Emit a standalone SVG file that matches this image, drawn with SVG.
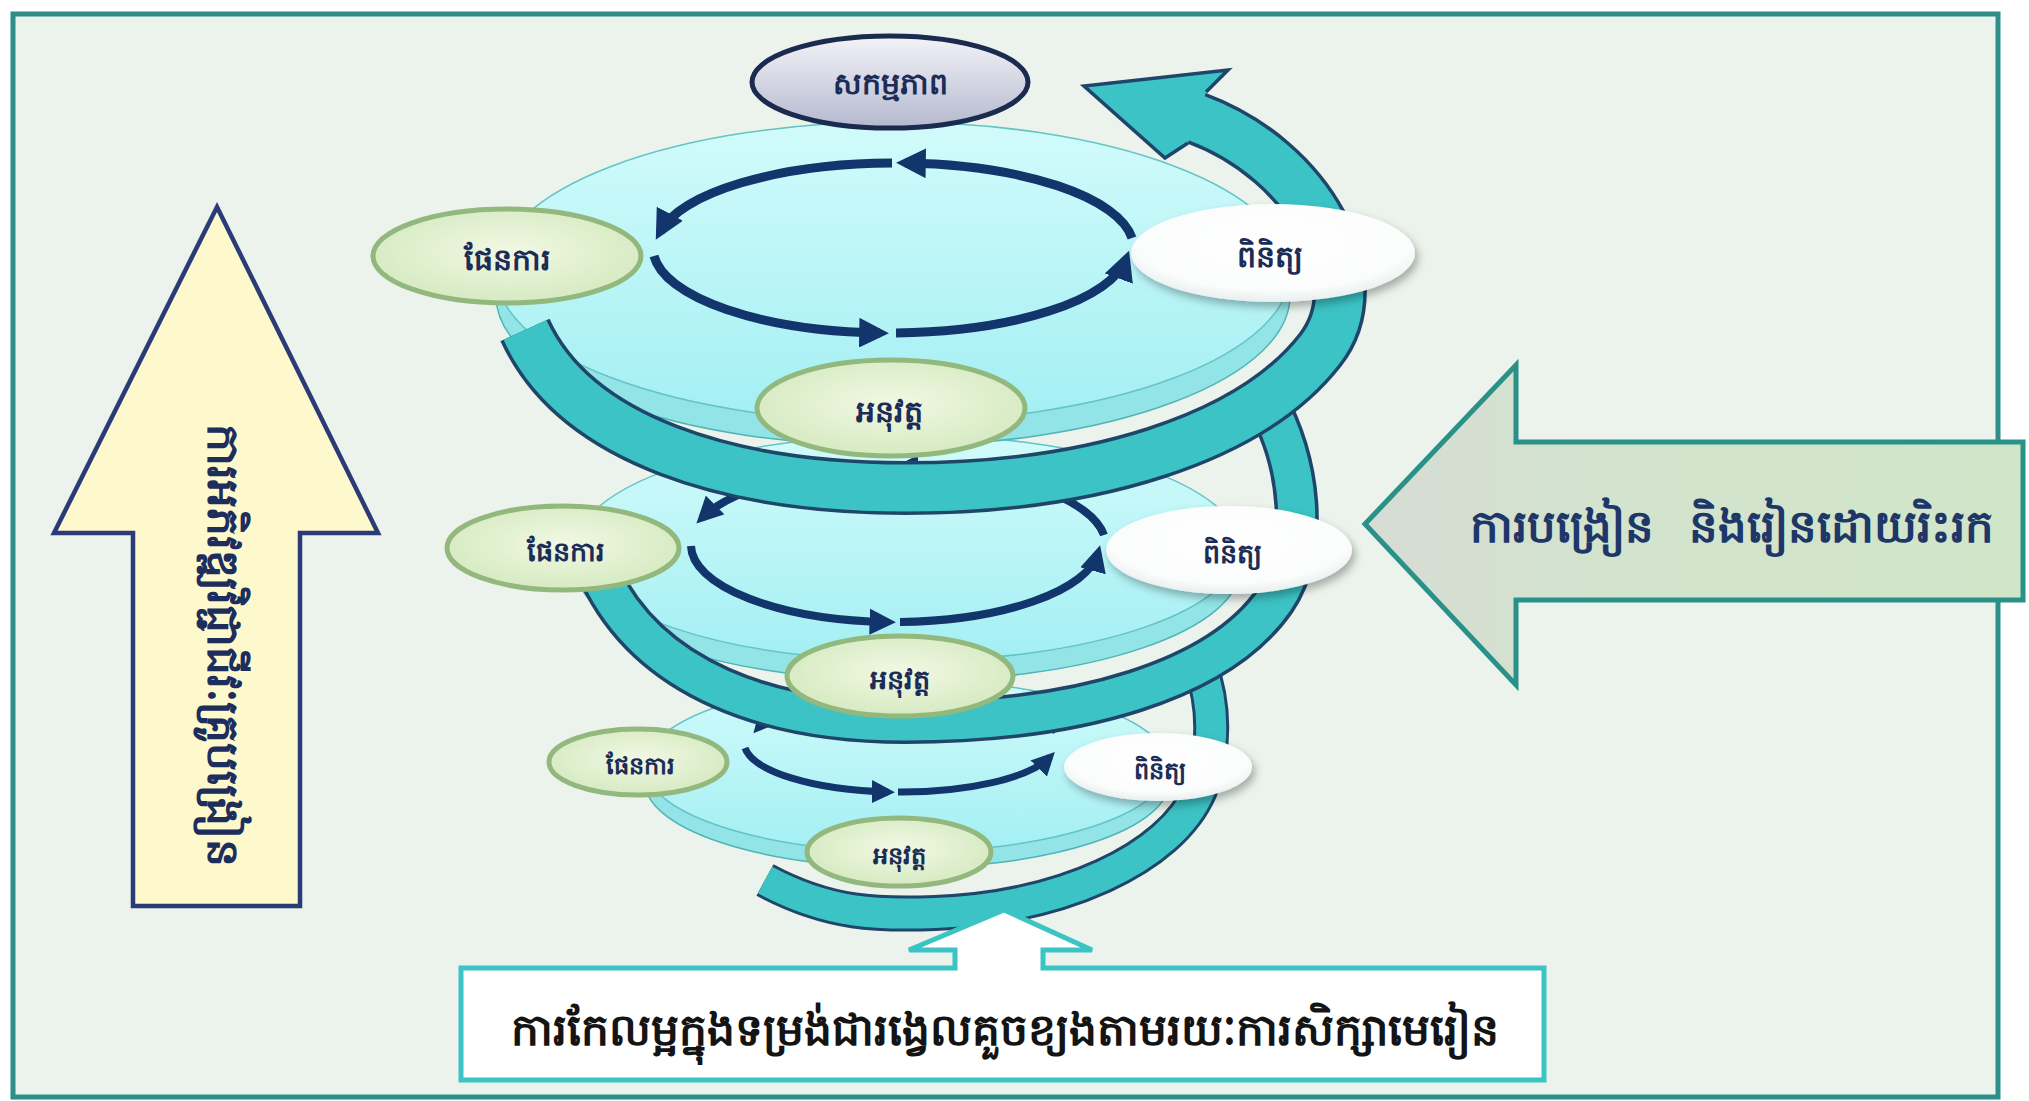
<svg xmlns="http://www.w3.org/2000/svg" xmlns:xlink="http://www.w3.org/1999/xlink" width="2029" height="1101" viewBox="0 0 2029 1101">
<style>
.kh{font-family:"Noto Sans","DejaVu Sans",sans-serif;font-weight:bold;text-anchor:middle}
.lbl{fill:#1b2d57;dominant-baseline:central}
.disk-face{stroke:#64c4c4;stroke-width:1.5}
.disk-side{fill:#92e4e6;stroke:#4fb4b6;stroke-width:1.5}
.loop{fill:none;stroke:#12356b;marker-end:url(#ah)}
.band-out{fill:none;stroke:#1f4668;stroke-linecap:butt}
.band-in{fill:none;stroke:#3cc3c5;stroke-linecap:butt}
.green{fill:url(#gGreen);stroke:#93b87e;stroke-width:5}
.white{fill:url(#gWhite);filter:url(#sh)}
</style>
<defs>
<linearGradient id="gFace" x1="0" y1="0" x2="0" y2="1"><stop offset="0" stop-color="#d2fbfb"/><stop offset="1" stop-color="#a3eff3"/></linearGradient>
<radialGradient id="gGreen" cx="0.5" cy="0.45" r="0.6"><stop offset="0" stop-color="#f2f8e4"/><stop offset="1" stop-color="#d3e9be"/></radialGradient>
<radialGradient id="gWhite" cx="0.5" cy="0.4" r="0.6"><stop offset="0" stop-color="#ffffff"/><stop offset="0.8" stop-color="#fbfcfc"/><stop offset="1" stop-color="#e9eeee"/></radialGradient>
<linearGradient id="gAct" x1="0" y1="0" x2="0" y2="1"><stop offset="0" stop-color="#f3f3f7"/><stop offset="1" stop-color="#b5b9cf"/></linearGradient>
<linearGradient id="gRight" x1="0" y1="0" x2="1" y2="0"><stop offset="0" stop-color="#d6dcd4"/><stop offset="0.35" stop-color="#d3e3ce"/><stop offset="1" stop-color="#d0e6c8"/></linearGradient>
<filter id="sh" x="-20%" y="-20%" width="140%" height="150%"><feDropShadow dx="3" dy="5" stdDeviation="4" flood-color="#000" flood-opacity="0.3"/></filter>
<marker id="ah" viewBox="0 0 10 10" refX="7" refY="5" markerWidth="3.3" markerHeight="3.3" orient="auto" markerUnits="strokeWidth"><path d="M0,0 L10,5 L0,10 z" fill="#12356b"/></marker>
<path id="band3" d="M765,880 C830,915 880,915 935,913 C1060,908 1170,860 1200,790 C1215,750 1215,705 1200,665"/>
<path id="band2" d="M600,575 C650,680 770,722 905,722 C1080,722 1220,680 1275,600 C1310,549 1300,460 1265,400"/>
<path id="band1" d="M525,330 C575,440 730,488 906,488 C1090,488 1250,440 1320,350 C1375,280 1310,160 1196,118"/>
</defs>

<rect x="0" y="0" width="2029" height="1101" fill="#ffffff"/>
<rect id="frame" x="13" y="14" width="1985" height="1083" fill="#ebf3ec" stroke="#2e8e88" stroke-width="5"/>

<g id="left-arrow">
<path d="M217,207 L378,533 L300,533 L300,906 L133,906 L133,533 L54,533 Z" fill="#fdf9cc" stroke="#2b3b78" stroke-width="4.5" stroke-linejoin="miter"/>
<text class="kh" x="0" y="0" font-size="44" fill="#1d2d5c" transform="translate(225,645) rotate(90)" dominant-baseline="central">ការអភិវឌ្ឍវិជ្ជាជីវៈគ្រូបង្រៀន</text>
</g>

<g id="spiral">
<!-- level 3 (bottom) -->
<g id="disk3">
<ellipse class="disk-side" cx="907" cy="782" rx="262" ry="86"/>
<ellipse class="disk-face" cx="907" cy="766" rx="262" ry="86" fill="url(#gFace)"/>
</g>
<g id="loop3">
<path class="loop" stroke-width="7" d="M1056,732 A156,50 0 0 0 900,692"/>
<path class="loop" stroke-width="7" d="M895,692 A156,50 0 0 0 758,728"/>
<path class="loop" stroke-width="7" d="M745,748 A156,50 0 0 0 888,792"/>
<path class="loop" stroke-width="7" d="M898,792 A156,50 0 0 0 1050,757"/>
</g>
<g id="band-3">
<use xlink:href="#band3" class="band-out" stroke-width="36"/>
<use xlink:href="#band3" class="band-in" stroke-width="30"/>
</g>
<!-- level 2 (middle) -->
<g id="disk2">
<ellipse class="disk-side" cx="908" cy="568" rx="332" ry="113"/>
<ellipse class="disk-face" cx="908" cy="548" rx="332" ry="113" fill="url(#gFace)"/>
</g>
<g id="loop2">
<path class="loop" stroke-width="8" d="M1104,535 A207,77 0 0 0 900,468"/>
<path class="loop" stroke-width="8" d="M893,468 A207,77 0 0 0 702,518"/>
<path class="loop" stroke-width="8" d="M691,546 A207,77 0 0 0 888,622"/>
<path class="loop" stroke-width="8" d="M900,622 A207,77 0 0 0 1098,553"/>
</g>
<g id="band-2">
<use xlink:href="#band2" class="band-out" stroke-width="44"/>
<use xlink:href="#band2" class="band-in" stroke-width="37"/>
</g>
<!-- level 1 (top) -->
<g id="disk1">
<ellipse class="disk-side" cx="893" cy="296" rx="397" ry="150"/>
<ellipse class="disk-face" cx="893" cy="272" rx="397" ry="150" fill="url(#gFace)"/>
</g>
<g id="loop1">
<path class="loop" stroke-width="9" d="M1132,238 A239,85 0 0 0 905,163"/>
<path class="loop" stroke-width="9" d="M892,163 A239,85 0 0 0 660,232"/>
<path class="loop" stroke-width="9" d="M654,256 A239,85 0 0 0 880,333"/>
<path class="loop" stroke-width="9" d="M896,333 A239,85 0 0 0 1126,259"/>
</g>
<g id="band-1">
<use xlink:href="#band1" class="band-out" stroke-width="54"/>
<use xlink:href="#band1" class="band-in" stroke-width="47"/>
<polygon points="1206,92 1228,70 1084,86 1165,158 1188,143" fill="#3cc3c5"/>
<polyline points="1206,92 1228,70 1084,86 1165,158 1188,143" fill="none" stroke="#1f4668" stroke-width="3.5" stroke-linejoin="miter"/>
</g>
</g>

<g id="node-activity">
<ellipse cx="890" cy="82" rx="138" ry="46" fill="url(#gAct)" stroke="#1b2b4f" stroke-width="5"/>
<text class="kh lbl" x="890" y="82" font-size="30">សកម្មភាព</text>
</g>
<g id="node-plan-1">
<ellipse class="green" cx="507" cy="256" rx="134" ry="47"/>
<text class="kh lbl" x="507" y="258" font-size="30">ផែនការ</text>
</g>
<g id="node-check-1">
<ellipse class="white" cx="1273" cy="253" rx="142" ry="49"/>
<text class="kh lbl" x="1270" y="255" font-size="30">ពិនិត្យ</text>
</g>
<g id="node-do-1">
<ellipse class="green" cx="891" cy="408" rx="134" ry="48"/>
<text class="kh lbl" x="889" y="410" font-size="30">អនុវត្ត</text>
</g>
<g id="node-plan-2">
<ellipse class="green" cx="563" cy="548" rx="116" ry="42"/>
<text class="kh lbl" x="566" y="550" font-size="27">ផែនការ</text>
</g>
<g id="node-check-2">
<ellipse class="white" cx="1229" cy="550" rx="123" ry="44"/>
<text class="kh lbl" x="1232" y="552" font-size="27">ពិនិត្យ</text>
</g>
<g id="node-do-2">
<ellipse class="green" cx="900" cy="676" rx="113" ry="40"/>
<text class="kh lbl" x="900" y="678" font-size="27">អនុវត្ត</text>
</g>
<g id="node-plan-3">
<ellipse class="green" cx="638" cy="762" rx="89" ry="33" stroke-width="4"/>
<text class="kh lbl" x="640" y="764" font-size="24">ផែនការ</text>
</g>
<g id="node-check-3">
<ellipse class="white" cx="1158" cy="767" rx="94" ry="34"/>
<text class="kh lbl" x="1160" y="769" font-size="24">ពិនិត្យ</text>
</g>
<g id="node-do-3">
<ellipse class="green" cx="899" cy="852" rx="92" ry="34" stroke-width="4"/>
<text class="kh lbl" x="899" y="854" font-size="24">អនុវត្ត</text>
</g>

<g id="right-arrow">
<path d="M1365,524 L1516,365 L1516,442 L2023,442 L2023,600 L1516,600 L1516,685 Z" fill="url(#gRight)" stroke="#2a9189" stroke-width="5"/>
<text class="kh" x="1732" y="524" font-size="45" fill="#1d3868" dominant-baseline="central" xml:space="preserve">ការបង្រៀន   និងរៀនដោយរិះរក</text>
</g>

<g id="bottom-callout">
<path d="M461,968 L955,968 L955,950 L909,950 L1004,910 L1092,950 L1043,950 L1043,968 L1544,968 L1544,1080 L461,1080 Z" fill="#ffffff" stroke="#3cc4c4" stroke-width="5"/>
<text class="kh" x="1005" y="1028" font-size="44" fill="#141414" dominant-baseline="central">ការកែលម្អក្នុងទម្រង់ជារង្វេលគួចខ្យងតាមរយៈការសិក្សាមេរៀន</text>
</g>
</svg>
